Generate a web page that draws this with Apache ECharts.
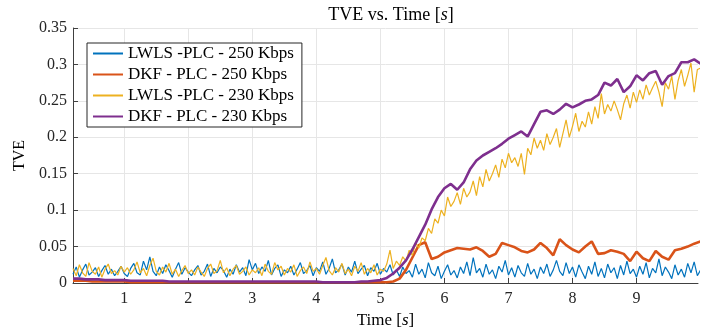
<!DOCTYPE html>
<html>
<head>
<meta charset="utf-8">
<script src="https://cdn.jsdelivr.net/npm/echarts@6/dist/echarts.min.js"></script>
<style>
  html, body { margin: 0; padding: 0; background: #fff; }
  #chart { width: 720px; height: 335px; }
</style>
</head>
<body>
<div id="chart"></div>
<script>
// sampling grids (s)
const fastStart = 0.2, fastStep = 0.05;
const slowStart = 0.2, slowStep = 0.1;

// LWLS - PLC - 250 Kbps (fast grid)
const lwls250 = [
  0.012,0.022,0.008,0.018,0.026,0.011,0.015,0.021,0.009,0.017,0.024,0.012,0.019,0.010,0.016,0.023,0.013,
  0.009,0.020,0.027,0.014,0.011,0.030,0.018,0.036,0.016,0.010,0.022,0.013,0.025,0.017,0.008,0.019,0.028,0.012,0.021,0.015,
  0.010,0.018,0.024,0.011,0.016,0.026,0.009,0.020,0.014,0.022,0.017,0.008,0.019,0.012,0.025,0.015,0.021,0.010,0.032,0.018,
  0.027,0.013,0.022,0.016,0.031,0.011,0.020,0.025,0.009,0.018,0.014,0.023,0.011,0.019,0.028,0.013,0.017,0.024,0.010,0.021,
  0.016,0.029,0.012,0.020,0.033,0.014,0.018,0.026,0.011,0.022,0.015,0.030,0.013,0.019,0.024,0.010,0.021,0.016,0.027,0.012,
  0.020,0.015,0.025,0.011,0.018,0.009,0.022,0.013,0.017,0.008,0.026,0.012,0.019,0.007,0.028,0.014,0.010,0.023,0.006,0.016,
  0.025,0.011,0.017,0.007,0.022,0.013,0.029,0.010,0.035,0.014,0.020,0.008,0.026,0.012,0.018,0.006,0.023,0.015,0.031,0.011,
  0.021,0.008,0.024,0.014,0.009,0.027,0.012,0.019,0.006,0.022,0.013,0.026,0.009,0.018,0.031,0.016,0.010,0.028,0.013,0.022,
  0.008,0.025,0.015,0.006,0.023,0.012,0.029,0.009,0.020,0.007,0.026,0.014,0.021,0.006,0.024,0.011,0.030,0.013,0.019,0.008,
  0.023,0.012,0.028,0.007,0.020,0.014,0.033,0.010,0.022,0.015,0.006,0.025,0.011,0.019,0.008,0.027,0.014,0.029,0.010,0.018
];

// LWLS - PLC - 230 Kbps (fast grid)
const lwls230 = [
  0.020,0.010,0.025,0.014,0.009,0.028,0.016,0.012,0.022,0.008,0.019,0.026,0.013,0.017,0.011,0.023,0.015,
  0.021,0.012,0.018,0.029,0.014,0.020,0.010,0.024,0.034,0.016,0.011,0.022,0.015,0.027,0.012,0.019,0.009,0.017,0.024,0.013,
  0.018,0.011,0.022,0.015,0.009,0.020,0.026,0.013,0.017,0.031,0.014,0.021,0.010,0.019,0.024,0.012,0.016,0.022,0.011,0.018,
  0.014,0.021,0.010,0.026,0.016,0.012,0.028,0.018,0.023,0.011,0.020,0.015,0.025,0.009,0.017,0.022,0.013,0.029,0.016,0.020,
  0.012,0.024,0.035,0.017,0.011,0.021,0.015,0.027,0.013,0.019,0.010,0.023,0.016,0.028,0.012,0.020,0.014,0.025,0.011,0.019,
  0.016,0.026,0.045,0.020,0.030,0.024,0.036,0.030,0.045,0.038,0.055,0.048,0.062,0.058,0.075,0.068,0.088,0.082,0.100,0.092,
  0.118,0.105,0.112,0.124,0.108,0.130,0.118,0.125,0.140,0.120,0.146,0.132,0.156,0.140,0.150,0.162,0.145,0.170,0.158,0.178,
  0.165,0.172,0.160,0.178,0.149,0.185,0.176,0.199,0.185,0.196,0.182,0.205,0.190,0.200,0.212,0.186,0.205,0.224,0.200,0.215,
  0.233,0.208,0.222,0.214,0.235,0.218,0.242,0.226,0.260,0.232,0.245,0.236,0.250,0.238,0.224,0.246,0.258,0.240,0.262,0.248,
  0.265,0.252,0.272,0.258,0.268,0.277,0.262,0.242,0.275,0.266,0.284,0.252,0.278,0.293,0.270,0.285,0.302,0.262,0.293,0.295
];

// DKF - PLC - 250 Kbps (slow grid)
const dkf250 = [
  0.003,0.003,0.003,0.002,0.002,0.002,0.002,0.002,0.002,
  0.001,0.001,0.001,0.001,0.001,0.001,0.001,0.001,0.001,0.001,
  0.001,0.001,0.001,0.001,0.001,0.001,0.001,0.001,0.001,0.001,
  0.001,0.001,0.001,0.001,0.001,0.001,0.001,0.001,0.001,0.001,
  0.001,0.001,0.001,0.001,0.001,0.001,0.001,0.001,0.001,0.001,
  0.001,0.002,0.006,0.018,0.035,0.052,0.056,0.033,0.036,0.042,
  0.045,0.048,0.047,0.046,0.049,0.044,0.036,0.040,0.055,0.052,
  0.049,0.044,0.042,0.046,0.055,0.048,0.038,0.060,0.052,0.046,
  0.042,0.050,0.057,0.040,0.041,0.045,0.043,0.040,0.030,0.043,
  0.034,0.030,0.044,0.036,0.032,0.045,0.047,0.050,0.054,0.057
];

// DKF - PLC - 230 Kbps (slow grid)
const dkf230 = [
  0.006,0.006,0.005,0.005,0.005,0.004,0.004,0.004,0.004,
  0.003,0.003,0.003,0.003,0.003,0.003,0.002,0.002,0.002,0.002,
  0.002,0.002,0.002,0.002,0.002,0.002,0.002,0.002,0.002,0.002,
  0.002,0.002,0.002,0.002,0.002,0.002,0.002,0.002,0.002,0.002,
  0.001,0.001,0.001,0.001,0.001,0.001,0.002,0.002,0.003,0.004,
  0.007,0.013,0.021,0.031,0.046,0.063,0.080,0.101,0.118,0.130,
  0.136,0.128,0.138,0.156,0.168,0.175,0.180,0.185,0.191,0.198,
  0.203,0.208,0.201,0.218,0.235,0.237,0.232,0.238,0.246,0.241,
  0.245,0.250,0.252,0.258,0.275,0.271,0.280,0.262,0.270,0.285,
  0.278,0.288,0.291,0.272,0.284,0.288,0.303,0.303,0.307,0.301
];

const seriesNames = ['LWLS -PLC - 250 Kbps', 'DKF - PLC - 250 Kbps', 'LWLS -PLC - 230 Kbps', 'DKF - PLC - 230 Kbps'];
const colors = ['#0072BD', '#D95319', '#EDB120', '#7E2F8E'];
const xTicks = [1, 2, 3, 4, 5, 6, 7, 8, 9];

function pairs(start, step, values) {
  return values.map((v, i) => [+(start + i * step).toFixed(3), v]);
}

const FONT = '"Liberation Serif", "DejaVu Serif", serif';
const TXT = '#262626';

const chart = echarts.init(document.getElementById('chart'));
chart.setOption({
  animation: false,
  color: colors,
  textStyle: { fontFamily: FONT, color: TXT },
  title: {
    text: '{a|TVE vs. Time [}{i|s}{a|]}',
    left: 386,
    top: 1,
    textAlign: 'center',
    textStyle: {
      rich: {
        a: { fontFamily: FONT, fontSize: 18, fontWeight: 'normal', color: '#000' },
        i: { fontFamily: FONT, fontSize: 18, fontWeight: 'normal', fontStyle: 'italic', color: '#000' }
      }
    }
  },
  grid: { left: 73, right: 22, top: 28, bottom: 52 },
  legend: {
    orient: 'vertical',
    left: 87,
    top: 43,
    data: seriesNames,
    itemWidth: 30,
    itemHeight: 14,
    itemGap: 4,
    padding: [2, 8, 2, 5],
    borderColor: '#262626',
    borderWidth: 1,
    borderRadius: 0,
    backgroundColor: '#fff',
    itemStyle: { color: 'rgba(0,0,0,0)', borderWidth: 0, opacity: 0 },
    textStyle: { fontFamily: FONT, fontSize: 17, color: '#000' }
  },
  xAxis: {
    type: 'value',
    min: 0.2,
    max: 9.96,
    minInterval: 1,
    maxInterval: 1,
    name: '{a|Time [}{i|s}{a|]}',
    nameLocation: 'middle',
    nameGap: 24,
    nameTextStyle: {
      rich: {
        a: { fontFamily: FONT, fontSize: 17, color: '#000' },
        i: { fontFamily: FONT, fontSize: 17, fontStyle: 'italic', color: '#000' }
      }
    },
    axisLine: { onZero: false, lineStyle: { color: '#404040', width: 1 } },
    axisTick: { inside: true, length: 5, lineStyle: { color: '#404040' } },
    axisLabel: {
      fontFamily: FONT, fontSize: 16, color: TXT, margin: 8,
      showMinLabel: false, showMaxLabel: false,
      formatter: v => (xTicks.includes(Math.round(v * 100) / 100) ? String(v) : '')
    },
    splitLine: { show: true, showMinLine: false, showMaxLine: false, lineStyle: { color: '#e6e6e6', width: 1 } }
  },
  yAxis: {
    type: 'value',
    min: 0,
    max: 0.35,
    interval: 0.05,
    name: 'TVE',
    nameLocation: 'middle',
    nameGap: 43,
    nameTextStyle: { fontFamily: FONT, fontSize: 16, color: '#000' },
    axisLine: { show: true, lineStyle: { color: '#404040', width: 1 } },
    axisTick: { show: true, inside: true, length: 5, lineStyle: { color: '#404040' } },
    axisLabel: { fontFamily: FONT, fontSize: 16, color: TXT, margin: 6 },
    splitLine: { show: true, showMinLine: false, lineStyle: { color: '#e6e6e6', width: 1 } }
  },
  series: [
    {
      name: seriesNames[0], type: 'line', symbol: 'none',
      lineStyle: { width: 1.2 },
      data: pairs(fastStart, fastStep, lwls250)
    },
    {
      name: seriesNames[1], type: 'line', symbol: 'none',
      lineStyle: { width: 2.6 },
      data: pairs(slowStart, slowStep, dkf250)
    },
    {
      name: seriesNames[2], type: 'line', symbol: 'none',
      lineStyle: { width: 1.2 },
      data: pairs(fastStart, fastStep, lwls230)
    },
    {
      name: seriesNames[3], type: 'line', symbol: 'none',
      lineStyle: { width: 2.6 },
      data: pairs(slowStart, slowStep, dkf230)
    }
  ]
});
</script>
</body>
</html>
